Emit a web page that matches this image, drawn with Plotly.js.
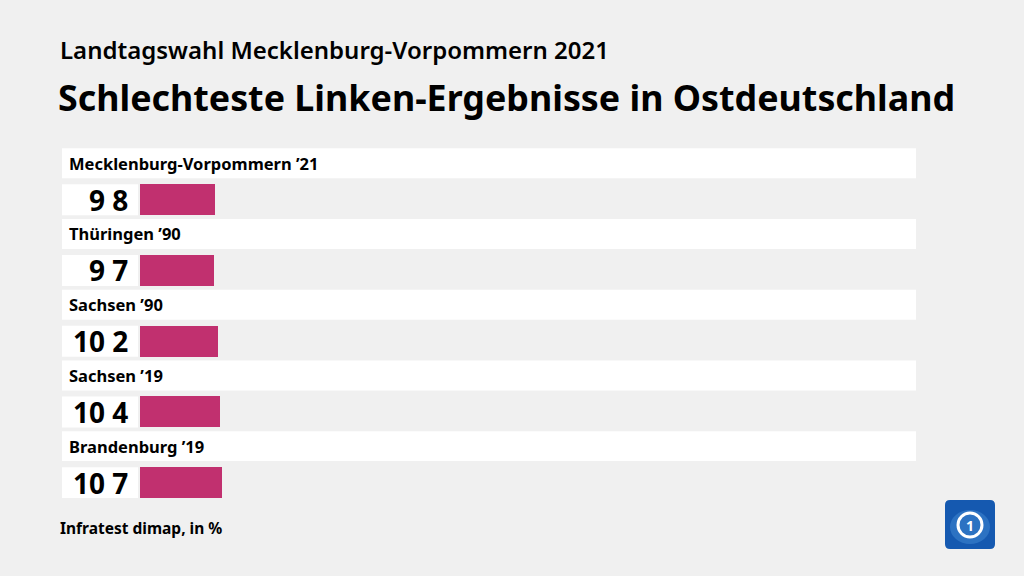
<!DOCTYPE html>
<html><head><meta charset="utf-8">
<script src="https://cdn.plot.ly/plotly-3.0.1.min.js"></script>
<style>html,body{margin:0;padding:0;background:#f0f0f0;}</style>
</head><body>
<div id="chart" style="width:1024px;height:576px;"></div>
<script>
const categories = ["Mecklenburg-Vorpommern ’21", "Thüringen ’90", "Sachsen ’90", "Sachsen ’19", "Brandenburg ’19"];
const values = [9.8, 9.7, 10.2, 10.4, 10.7];
const valueLabels = ["9 8", "9 7", "10 2", "10 4", "10 7"];
const supertitle = "Landtagswahl Mecklenburg-Vorpommern 2021";
const title = "Schlechteste Linken-Ergebnisse in Ostdeutschland";
const source = "Infratest dimap, in %";

const W = 1024, H = 576, L = 140, R = 108, T = 136, B = 58;
const pw = W - L - R, ph = H - T - B;
const px2paper = p => (p - L) / pw;
const py2paper = p => (H - B - p) / ph;
const FONT = "Noto Sans, sans-serif";
const idx = categories.map((c, i) => i);

const shapes = [];
const annotations = [];
idx.forEach(i => {
  shapes.push({type: "rect", xref: "paper", yref: "y", x0: px2paper(62), x1: 1,
    y0: i - 0.516 - 0.212, y1: i - 0.516 + 0.212, fillcolor: "#ffffff", line: {width: 0}, layer: "below"});
  shapes.push({type: "rect", xref: "paper", yref: "y", x0: px2paper(62), x1: px2paper(138),
    y0: i - 0.219, y1: i + 0.219, fillcolor: "#ffffff", line: {width: 0}, layer: "below"});
  annotations.push({xref: "paper", yref: "y", x: px2paper(67), y: i - 0.516, xanchor: "left", yanchor: "middle",
    text: "<b>" + categories[i] + "</b>", showarrow: false, font: {family: FONT, size: 16.5, color: "#000"}});
  annotations.push({xref: "paper", yref: "y", x: px2paper(130), y: i, xanchor: "right", yanchor: "middle",
    text: "<b>" + valueLabels[i] + "</b>", showarrow: false, font: {family: FONT, size: 28, color: "#000"}});
});
annotations.push({xref: "paper", yref: "paper", x: px2paper(58), y: py2paper(50), xanchor: "left", yanchor: "middle",
  text: supertitle, showarrow: false, font: {family: FONT, size: 24, weight: 600, color: "#000"}});
annotations.push({xref: "paper", yref: "paper", x: px2paper(58), y: py2paper(528), xanchor: "left", yanchor: "middle",
  text: "<b>" + source + "</b>", showarrow: false, font: {family: FONT, size: 15.5, color: "#000"}});

// logo
const lx0 = px2paper(945), lx1 = px2paper(995), ly0 = py2paper(549), ly1 = py2paper(500);
const rx = 5 / pw, ry = 5 / ph;
shapes.push({type: "path", xref: "paper", yref: "paper",
  path: `M ${lx0 + rx} ${ly0} L ${lx1 - rx} ${ly0} Q ${lx1} ${ly0} ${lx1} ${ly0 + ry} L ${lx1} ${ly1 - ry} Q ${lx1} ${ly1} ${lx1 - rx} ${ly1} L ${lx0 + rx} ${ly1} Q ${lx0} ${ly1} ${lx0} ${ly1 - ry} L ${lx0} ${ly0 + ry} Q ${lx0} ${ly0} ${lx0 + rx} ${ly0} Z`,
  fillcolor: "#1559b0", line: {width: 0}});
shapes.push({type: "circle", xref: "paper", yref: "paper", x0: px2paper(950), x1: px2paper(990),
  y0: py2paper(544), y1: py2paper(510), fillcolor: "rgba(90,160,230,0.35)", line: {width: 0}});
shapes.push({type: "circle", xref: "paper", yref: "paper", x0: px2paper(958), x1: px2paper(982),
  y0: py2paper(537), y1: py2paper(513), fillcolor: "rgba(0,0,0,0)", line: {width: 3, color: "#ffffff"}});
annotations.push({xref: "paper", yref: "paper", x: px2paper(970), y: py2paper(525), xanchor: "center", yanchor: "middle",
  text: "<b>1</b>", showarrow: false, font: {family: FONT, size: 14, color: "#fff"}});

const data = [{
  type: "bar", orientation: "h", x: values, y: idx, width: 0.438,
  marker: {color: "#c1306f"}, hoverinfo: "skip"
}];

const layout = {
  width: W, height: H, paper_bgcolor: "#f0f0f0", plot_bgcolor: "rgba(0,0,0,0)",
  margin: {l: L, r: R, t: T, b: B},
  title: {text: "<b>" + title + "</b>", xref: "container", yref: "container", x: 58 / W, xanchor: "left",
    y: 1 - 98 / H, yanchor: "middle", font: {family: FONT, size: 35.8, color: "#000"}},
  xaxis: {range: [0, pw / 7.65], visible: false, fixedrange: true},
  yaxis: {range: [4.5, -0.9], visible: false, fixedrange: true},
  shapes: shapes, annotations: annotations, showlegend: false, bargap: 0
};
Plotly.newPlot("chart", data, layout, {displayModeBar: false, staticPlot: true});
</script>
</body></html>
